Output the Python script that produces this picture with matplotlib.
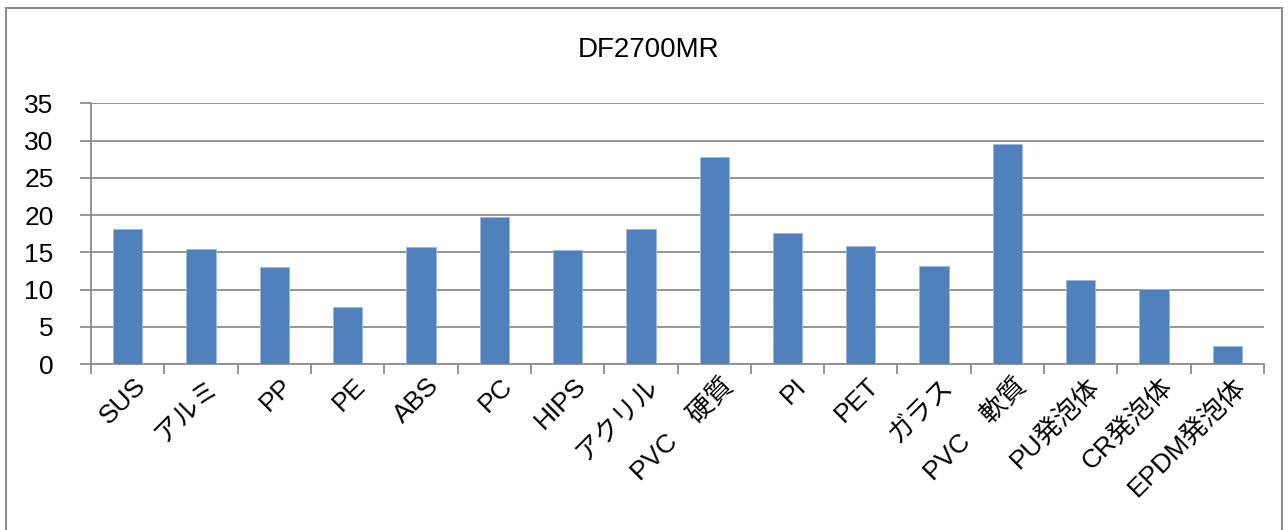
import matplotlib
matplotlib.use("Agg")
import matplotlib.pyplot as plt
import matplotlib.transforms as mtransforms
import numpy as np
from matplotlib.patches import Rectangle

# ========== DATA ========== #
title = "DF2700MR"
categories = ["SUS", "アルミ", "PP", "PE", "ABS", "PC", "HIPS", "アクリル",
              "PVC　硬質", "PI", "PET", "ガラス", "PVC　軟質",
              "PU発泡体", "CR発泡体", "EPDM発泡体"]
values = [18.1, 15.4, 13.0, 7.7, 15.7, 19.8, 15.35, 18.1,
          27.8, 17.6, 15.9, 13.1, 29.6, 11.3, 10.1, 2.4]
y_ticks = [0, 5, 10, 15, 20, 25, 30, 35]

# ========== STYLE ========== #
plt.rcParams['font.family'] = ['Liberation Sans', 'Noto Sans CJK JP', 'DejaVu Sans']
BAR_COLOR = "#4F81BD"
GRID_COLOR = "#8C8C8C"
FS = 19

fig = plt.figure(figsize=(12.88, 5.30), dpi=100)
ax = fig.add_axes([0.0707, 0.3132, 0.9107, 0.4918])

x = np.arange(len(categories))
ax.bar(x, values, width=0.4, color=BAR_COLOR, edgecolor="#9DB9DE", linewidth=0.6, zorder=3)

ax.set_xlim(-0.5, len(categories) - 0.5)
ax.set_ylim(0, 35)
ax.set_yticks(y_ticks)
ax.set_yticklabels([str(v) for v in y_ticks], fontsize=FS)
ax.yaxis.grid(True, color=GRID_COLOR, linewidth=1.3, zorder=0)
ax.set_axisbelow(True)

# category ticks on boundaries, labels at centers
ax.set_xticks(np.arange(-0.5, len(categories)), minor=False)
ax.set_xticklabels([])
ax.set_xticks(x, minor=True)
ax.set_xticklabels(categories, minor=True, rotation=45, ha="right", va="top",
                   rotation_mode="anchor", fontsize=FS)
ax.tick_params(axis="x", which="minor", length=0, pad=7)
ax.tick_params(axis="x", which="major", length=7, width=1.3, color=GRID_COLOR)
ax.tick_params(axis="y", length=8, width=1.3, color=GRID_COLOR, pad=19)

# shift category labels a little to the right
shift = mtransforms.ScaledTranslation(6 / 100, 0, fig.dpi_scale_trans)
for lbl in ax.get_xticklabels(minor=True):
    lbl.set_transform(lbl.get_transform() + shift)

for side in ["top", "right"]:
    ax.spines[side].set_visible(False)
for side in ["left", "bottom"]:
    ax.spines[side].set_color(GRID_COLOR)
    ax.spines[side].set_linewidth(1.3)

fig.text(0.5035, 0.905, title, ha="center", va="center", fontsize=20)

# outer chart border
fig.patches.append(Rectangle((6 / 1288, -0.1), 1276 / 1288, 1.1 - 8 / 530,
                             transform=fig.transFigure, fill=False,
                             edgecolor="#8C8C8C", linewidth=1.5))

plt.savefig("out.png", dpi=100)
